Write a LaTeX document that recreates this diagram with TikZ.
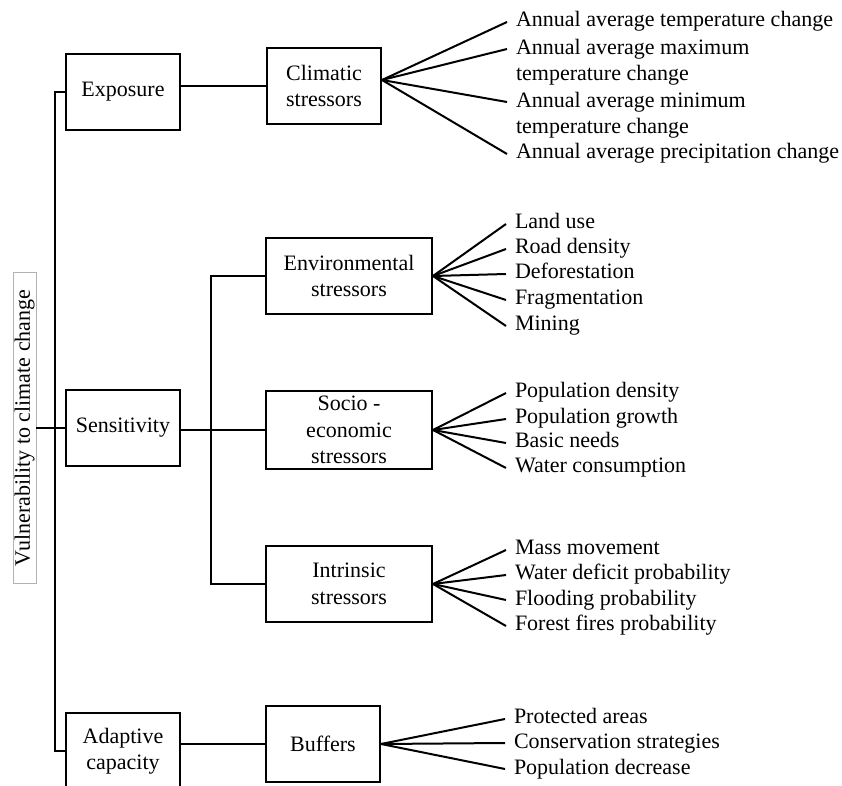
\documentclass[tikz,border=0pt]{standalone}
\usepackage{fontspec}
\setmainfont{Liberation Serif}
\usetikzlibrary{positioning}

\begin{document}
\begin{tikzpicture}[x=0.5pt, y=-0.5pt, line width=1pt]
\tikzset{every node/.style = {font=\fontsize{11}{13.2}\selectfont}}
\tikzset{BoxStyle/.style = {draw, align=center, minimum width=57pt, minimum height=38pt, inner sep=1pt}}
\tikzset{WideBox/.style = {BoxStyle, minimum width=83pt}}
\tikzset{LeafStyle/.style = {anchor=west, inner xsep=4pt, inner ysep=0pt, text height=7.5pt, text depth=2.5pt}}
\tikzset{TwoLeaf/.style = {anchor=west, inner xsep=4pt, inner ysep=0pt, align=left}}
  \useasboundingbox (0,0) rectangle (842,786);
  \node[draw=gray!60, line width=0.4pt, rotate=90, minimum width=155.5pt, minimum height=11.5pt, inner sep=0.5pt] (vuln) at (24.5,428) {Vulnerability to climate change};
  \node[BoxStyle] (expo) at (123,92) {Exposure};
  \node[BoxStyle] (sens) at (123,428) {Sensitivity};
  \node[BoxStyle] (adap) at (123,751) {Adaptive\\capacity};
  \node[BoxStyle] (clim) at (324,86) {Climatic\\stressors};
  \node[WideBox] (env) at (349,276) {Environmental\\stressors};
  \node[WideBox, minimum height=39pt] (soc) at (349,430) {Socio -\\economic\\stressors};
  \node[WideBox] (intr) at (349,584) {Intrinsic\\stressors};
  \node[BoxStyle] (buff) at (323,744) {Buffers};
  \draw (expo.west) -- ++(-10,0) |- (adap.west);
  \draw (sens.west) -- (sens.west -| vuln.south);
  \draw (expo.east |- clim.west) -- (clim.west);
  \draw (sens.east |- soc.west) -- (soc.west);
  \draw (env.west) -- ++(-54,0) |- (intr.west);
  \draw (adap.east |- buff.west) -- (buff.west);
  \node[LeafStyle] (clim1) at (507,22) {Annual average temperature change};
  \node[TwoLeaf] (clim2) at (507,62.1) {Annual average maximum\\temperature change};
  \node[TwoLeaf] (clim3) at (507,115.1) {Annual average minimum\\temperature change};
  \node[LeafStyle] (clim4) at (507,154) {Annual average precipitation change};
  \draw ([yshift=3pt]clim.east) -- (clim1.west);
  \draw ([yshift=3pt]clim.east) -- ([yshift=6.55pt]clim2.west);
  \draw ([yshift=3pt]clim.east) -- ([yshift=6.55pt]clim3.west);
  \draw ([yshift=3pt]clim.east) -- (clim4.west);
  \foreach \yy/\txt [count=\i] in {224/Land use, 249/Road density, 274/Deforestation, 300/Fragmentation, 326/Mining} {
    \node[LeafStyle] (env\i) at (506,\yy) {\txt};
    \draw (env.east) -- (env\i.west);
  }
  \foreach \yy/\txt [count=\i] in {393/Population density, 419/Population growth, 443/Basic needs, 468/Water consumption} {
    \node[LeafStyle] (soc\i) at (506,\yy) {\txt};
    \draw (soc.east) -- (soc\i.west);
  }
  \foreach \yy/\txt [count=\i] in {550/Mass movement, 575/Water deficit probability, 600/Flooding probability, 626/Forest fires probability} {
    \node[LeafStyle] (intr\i) at (506,\yy) {\txt};
    \draw (intr.east) -- (intr\i.west);
  }
  \foreach \yy/\txt [count=\i] in {719/Protected areas, 743/Conservation strategies, 769/Population decrease} {
    \node[LeafStyle] (buff\i) at (505,\yy) {\txt};
    \draw (buff.east) -- (buff\i.west);
  }
\end{tikzpicture}
\end{document}
